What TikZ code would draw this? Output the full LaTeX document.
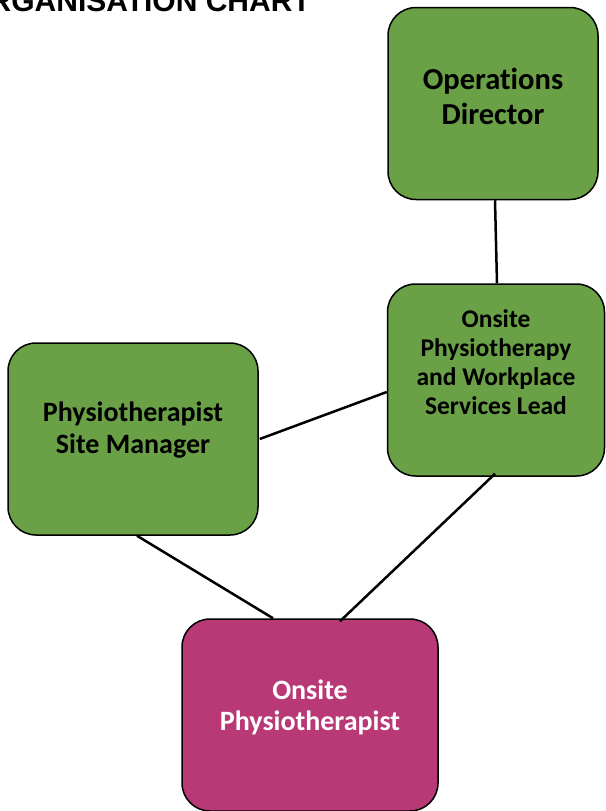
\documentclass[tikz,border=0pt]{standalone}
\usepackage{fontspec}
\setmainfont[Ligatures=NoCommon]{Carlito}
\newfontfamily\titlefont{Liberation Sans}
\definecolor{boxgreen}{RGB}{106,160,70}
\definecolor{boxpink}{RGB}{185,57,118}

\begin{document}
\begin{tikzpicture}[x=1pt,y=-1pt]
      \tikzset{post/.style={draw=black, line width=1.5pt, rounded corners=28pt,
            fill=boxgreen, align=center, font=\bfseries, minimum height=192pt},
            link/.style={line width=2.5pt}}
      \useasboundingbox (0,0) rectangle (605,811);
      % title runs off the page edge
      \node[font=\titlefont\bfseries\fontsize{30}{32}\selectfont, anchor=base east, inner sep=0pt]
            (title) at (311,12) {ORGANISATION CHART};
      \node[post, minimum width=210pt, font=\bfseries\fontsize{30.5}{35}\selectfont, text depth=14pt]
            (od) at (493,103.5) {Operations\\Director};
      \node[post, minimum width=217pt, font=\bfseries\fontsize{25.5}{29}\selectfont, text depth=36pt]
            (lead) at (496,380) {Onsite\\Physiotherapy\\and Workplace\\Services Lead};
      \node[post, minimum width=250pt, font=\bfseries\fontsize{28}{32}\selectfont, text depth=22pt]
            (sm) at (133,439) {Physiotherapist\\Site Manager};
      \node[post, fill=boxpink, text=white, minimum width=256pt, font=\bfseries\fontsize{28}{31}\selectfont, text depth=20pt]
            (op) at (310,715) {Onsite\\Physiotherapist};
      \draw[link] ([xshift=2pt]od.south) -- ([xshift=1pt]lead.north);
      \draw[link] ([yshift=-12pt]lead.west) -- ([xshift=1pt]sm.east);
      \draw[link] ([xshift=4pt]sm.south) -- ([xshift=-37pt]op.north);
      \draw[link] ([xshift=-1pt,yshift=3pt]lead.south) -- ([xshift=30pt,yshift=-3pt]op.north);
\end{tikzpicture}
\end{document}
